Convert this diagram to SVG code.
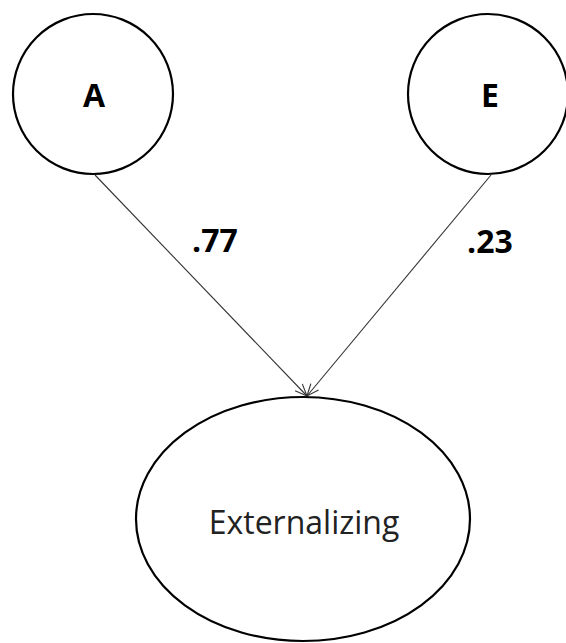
<svg xmlns="http://www.w3.org/2000/svg" width="566" height="643" viewBox="0 0 566 643">
  <style>
    .node { fill: #ffffff; stroke: #000000; stroke-width: 2.2; }
    .edge { fill: none; stroke: #333333; stroke-width: 1.1; marker-end: url(#open-arrow); }
    .latent { font-family: "Open Sans", "Liberation Sans", sans-serif; font-weight: bold; font-size: 32px; fill: #000000; text-anchor: middle; }
    .coef { font-family: "Open Sans", "Liberation Sans", sans-serif; font-weight: bold; font-size: 32px; fill: #000000; }
    .label { font-family: "Open Sans", "Liberation Sans", sans-serif; font-size: 32px; fill: #222222; text-anchor: middle; }
  </style>
  <defs>
    <marker id="open-arrow" viewBox="0 0 14 12" refX="13" refY="6" markerWidth="14" markerHeight="12" markerUnits="userSpaceOnUse" orient="auto">
      <path d="M1,1 L13,6 L1,11" fill="none" stroke="#333333" stroke-width="1.1"/>
    </marker>
  </defs>
  <rect width="566" height="643" fill="#ffffff"/>

  <!-- paths from A and E to the phenotype -->
  <g id="connectors">
    <line class="edge" x1="95" y1="175" x2="307" y2="396"/>
    <line class="edge" x1="491" y1="175" x2="307" y2="396"/>
    <text class="coef" x="192" y="252">.77</text>
    <text class="coef" x="467" y="253">.23</text>
  </g>

  <g id="node-A">
    <circle class="node" cx="93" cy="94" r="80"/>
    <text class="latent" x="94" y="107">A</text>
  </g>

  <g id="node-E">
    <circle class="node" cx="488" cy="94" r="80"/>
    <text class="latent" x="490" y="107">E</text>
  </g>

  <g id="node-externalizing">
    <ellipse class="node" cx="303" cy="519" rx="167" ry="122"/>
    <text class="label" x="304" y="534">Externalizing</text>
  </g>
</svg>
